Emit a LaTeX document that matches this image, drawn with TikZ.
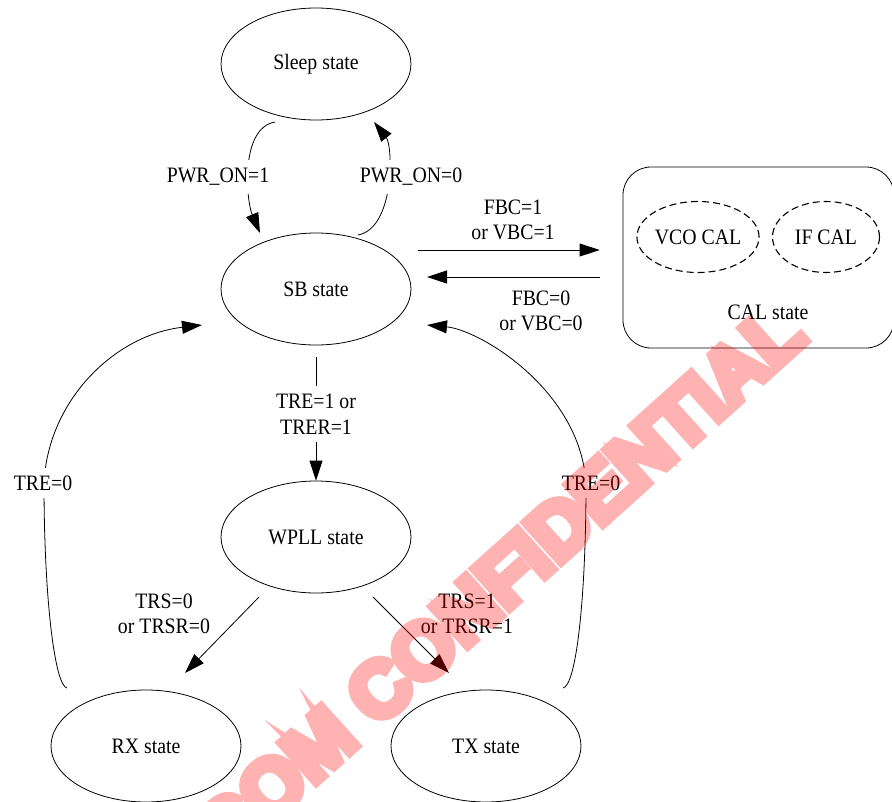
\documentclass[tikz,border=0pt]{standalone}
\usepackage{fontspec}
\setmainfont{Liberation Serif}[FakeStretch = 0.9]
\newfontfamily\stampfont{Liberation Sans}[FakeBold = 11]
\usepackage{tikz}
\usetikzlibrary{arrows.meta}
\usetikzlibrary{shapes.geometric}
\tikzset{
state/.style = { ellipse, draw = black, minimum width = 190pt, minimum height = 112pt, inner sep = 0pt },
sub state/.style = { ellipse, draw = black, dash pattern = on 7pt off 4pt, line width = 1.1pt, minimum width = 107pt, minimum height = 71pt, inner sep = 0pt },
group/.style = { rectangle, draw = black, rounded corners = 28pt, minimum width = 271pt, minimum height = 181pt },
cond/.style = { align = center, inner sep = 0pt },
cut cond/.style = { align = center, fill = white, inner xsep = 2pt, inner ysep = 8pt },
trans/.style = { -{Triangle[length = 20pt, width = 13pt]} },
}

\begin{document}
\begin{tikzpicture}[x = 1pt, y = -1pt, line width = 0.8pt, font = \fontsize{22}{25.5}\selectfont]
      \useasboundingbox (0, 0) rectangle (892, 801);
      % states
      \node[state] (sleep) at (316, 64) {Sleep state};
      \node[state] (sb) at (316, 289) {SB state};
      \node[state] (wpll) at (316, 537) {WPLL state};
      \node[state] (rx) at (146, 746) {RX state};
      \node[state] (tx) at (486, 746) {TX state};
      \node[group] (cal) at (758.5, 257.5) {};
      \node[sub state] (vco) at (698, 237) {VCO CAL};
      \node[sub state] (ifcal) at (826, 237) {IF CAL};
      \node (caltext) at (768, 312) {CAL state};
      % transitions
      \draw[trans] ([shift = {(-41, 58)}]sleep.center) .. controls (240, 128) and (246, 200) .. ([shift = {(-56, -56)}]sb.center);
      \draw[trans] ([shift = {(42, -54)}]sb.center) .. controls (395, 228) and (393, 146) .. ([shift = {(58, 58)}]sleep.center);
      \draw[trans] ([shift = {(102, -39)}]sb.center) -- ([shift = {(-23, -7.5)}]cal.west);
      \draw[trans] ([shift = {(-23, 19.5)}]cal.west) -- ([shift = {(111, -12)}]sb.center);
      \draw[trans] ([yshift = -12pt]sb.south) -- (wpll.north);
      \draw[trans] ([shift = {(-57, 60)}]wpll.center) -- ([shift = {(39, -73)}]rx.center);
      \draw[trans] ([shift = {(57, 60)}]wpll.center) -- ([shift = {(-37, -73)}]tx.center);
      \draw[trans] ([shift = {(-79, -58)}]rx.center) .. controls (55, 686) and (44, 600) .. (44, 483)
            .. controls (48, 400) and (115, 335) .. ([shift = {(-114, 36)}]sb.center);
      \draw[trans] ([shift = {(77, -58)}]tx.center) .. controls (576, 686) and (586, 600) .. (586, 483)
            .. controls (580, 390) and (480, 330) .. ([shift = {(111, 36)}]sb.center);
      % conditions
      \node[cut cond] (pwron) at (218, 177) {PWR\_ON=1};
      \node[cut cond] (pwroff) at (411, 177) {PWR\_ON=0};
      \node[cond] (calon) at (513, 220) {FBC=1\\or VBC=1};
      \node[cond] (caloff) at (541, 311) {FBC=0\\or VBC=0};
      \node[cut cond] (tre1) at (316, 414) {TRE=1 or\\TRER=1};
      \node[cond] (trs0) at (164, 614) {TRS=0\\or TRSR=0};
      \node[cond] (trs1) at (467, 614) {TRS=1\\or TRSR=1};
      \node[cut cond] (tre0l) at (43, 483) {TRE=0};
      \node[cut cond] (tre0r) at (591, 483) {TRE=0};
      % stamp
      \begin{scope}[transparency group, opacity = 0.3]
            \node[text = red, rotate = 42, font = \stampfont\bfseries\fontsize{78}{78}\selectfont] (stamp) at (499, 582) {COM CONFIDENTIAL};
      \end{scope}
\end{tikzpicture}
\end{document}
